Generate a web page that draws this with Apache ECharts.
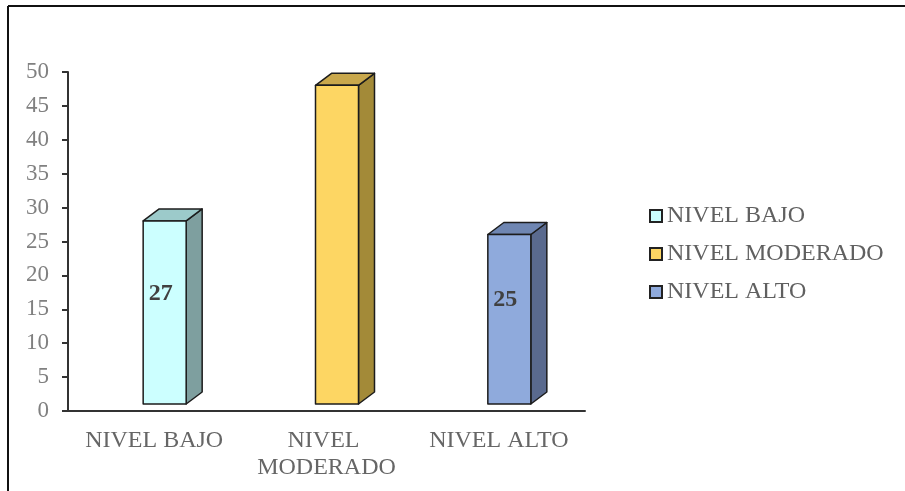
<!DOCTYPE html>
<html>
<head>
<meta charset="utf-8">
<script src="https://cdn.jsdelivr.net/npm/echarts@6/dist/echarts.min.js"></script>
<style>
  html, body { margin: 0; padding: 0; background: #fff; }
  #chart { width: 905px; height: 491px; }
</style>
</head>
<body>
<div id="chart"></div>
<script>
// datos del grafico
const categories = ['NIVEL BAJO', 'NIVEL MODERADO', 'NIVEL ALTO']
const values = [27, 47, 25]
const showValue = [true, false, true]
const yTicks = { min: 0, max: 50, interval: 5 }

// colores: cara frontal, techo, lateral
const faceColors = ['#CCFFFF', '#FDD663', '#8FAADC']
const topColors = ['#9CCACA', '#C9A84C', '#6F86B2']
const sideColors = ['#7E9F9F', '#A38A38', '#5A6A8E']

const serif = '"Liberation Serif", "Times New Roman", serif'

let ch = echarts.init(document.getElementById('chart'))

function bar3d(i) {
  return function (params, api) {
    let c = api.value(0)
    let base = api.coord([c, 0])
    let top = api.coord([c, api.value(1)])
    let left = base[0] - 11
    let right = base[0] + 32
    let bottom = base[1] - 7
    let tp = top[1] - 7
    let dx = 16, dy = 12
    let edge = { stroke: '#1c1c1c', lineWidth: 1.5, lineJoin: 'round' }
    let children = [
      {
        type: 'polygon',
        shape: { points: [[right, bottom], [right + dx, bottom - dy], [right + dx, tp - dy], [right, tp]] },
        style: Object.assign({ fill: sideColors[i] }, edge)
      },
      {
        type: 'polygon',
        shape: { points: [[left, tp], [left + dx, tp - dy], [right + dx, tp - dy], [right, tp]] },
        style: Object.assign({ fill: topColors[i] }, edge)
      },
      {
        type: 'rect',
        shape: { x: left, y: tp, width: right - left, height: bottom - tp },
        style: Object.assign({ fill: faceColors[i] }, edge)
      }
    ]
    if (showValue[i]) {
      children.push({
        type: 'text',
        style: {
          text: String(api.value(1)),
          x: (left + right) / 2 - 4,
          y: (tp + bottom) / 2 - 19,
          fill: '#404040',
          font: 'bold 24px ' + serif,
          align: 'center',
          verticalAlign: 'middle'
        }
      })
    }
    return { type: 'group', children: children }
  }
}

let series = categories.map((name, i) => ({
  name: name,
  type: 'custom',
  renderItem: bar3d(i),
  encode: { x: 0, y: 1 },
  itemStyle: { color: faceColors[i], borderColor: '#222', borderWidth: 1.5 },
  data: [[i, values[i]]]
}))

let option = {
  animation: false,
  backgroundColor: '#fff',
  grid: { left: 68, right: 320, top: 72, bottom: 80 },
  legend: {
    data: categories,
    orient: 'vertical',
    left: 644,
    top: 199,
    icon: 'rect',
    itemWidth: 12,
    itemHeight: 12,
    itemGap: 14,
    selectedMode: false,
    textStyle: { color: '#606060', fontSize: 24, fontFamily: serif }
  },
  xAxis: {
    type: 'category',
    data: categories,
    axisLine: { lineStyle: { color: '#333', width: 2 } },
    axisTick: { show: false },
    axisLabel: {
      interval: 0,
      color: '#666',
      fontSize: 24,
      fontFamily: serif,
      lineHeight: 27,
      margin: 16,
      width: 165,
      overflow: 'break'
    }
  },
  yAxis: {
    type: 'value',
    min: yTicks.min,
    max: yTicks.max,
    interval: yTicks.interval,
    axisLine: { show: true, lineStyle: { color: '#333', width: 2 } },
    axisTick: { show: true, length: 6, lineStyle: { color: '#333', width: 2 } },
    splitLine: { show: false },
    axisLabel: { color: '#808080', fontSize: 23, fontFamily: serif, margin: 19 }
  },
  graphic: [
    { type: 'line', shape: { x1: 8, y1: 6, x2: 905, y2: 6 }, style: { stroke: '#111', lineWidth: 2 } },
    { type: 'line', shape: { x1: 8, y1: 6, x2: 8, y2: 491 }, style: { stroke: '#111', lineWidth: 2 } }
  ],
  series: series
}
ch.setOption(option)
</script>
</body>
</html>
